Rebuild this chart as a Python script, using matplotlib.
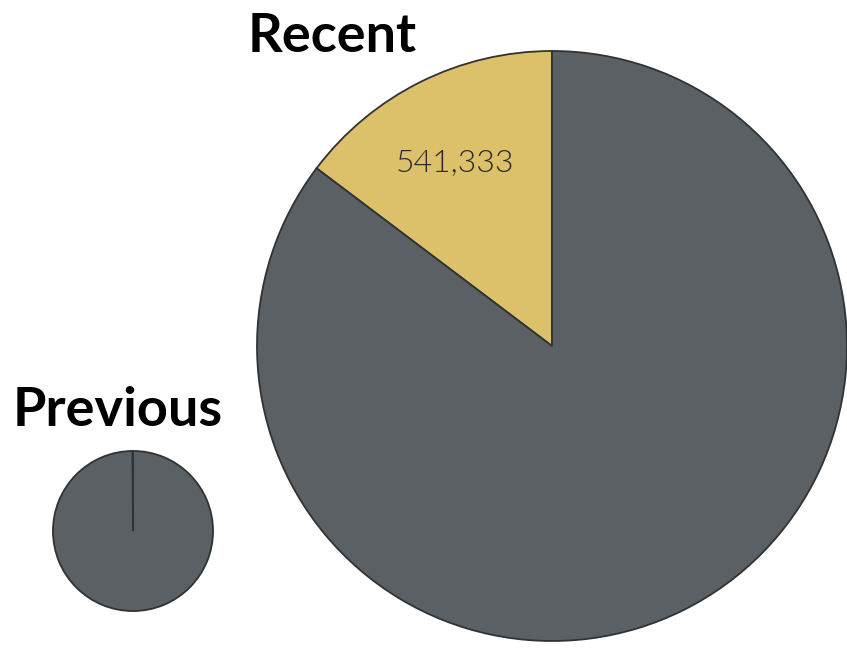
import numpy as np
import matplotlib.pyplot as plt

plt.rcParams['font.family'] = ['Lato', 'DejaVu Sans']

# values: [highlighted, rest]
recent_values = [541333, 3139000]
previous_values = [300, 270600]
labels = ['Recent', 'Previous']

gold = '#dcc06a'
grey = '#5a6063'
edge = '#303336'

fig = plt.figure(figsize=(8.47, 6.52), dpi=100)
ax = fig.add_axes([0, 0, 1, 1])

# area of each pie proportional to its total
big_r = 295
scale = big_r / np.sqrt(sum(recent_values))
small_r = scale * np.sqrt(sum(previous_values))

ax.pie(recent_values, colors=[gold, grey], startangle=90, counterclock=True,
       center=(552, 306), radius=big_r, frame=True,
       wedgeprops=dict(edgecolor=edge, linewidth=1.3))
ax.pie(previous_values, colors=[gold, grey], startangle=90, counterclock=True,
       center=(133, 121), radius=small_r, frame=True,
       wedgeprops=dict(edgecolor=edge, linewidth=1.3))
ax.set_xlim(0, 847)
ax.set_ylim(0, 652)
ax.set_aspect('equal')
ax.axis('off')

ax.text(455, 489, f"{recent_values[0]:,}", ha='center', va='center',
        fontsize=23, fontweight=300, color='#2a2a2a')

ax.text(332, 616, labels[0], ha='center', va='center', fontsize=39,
        fontweight='bold', color='black')
ax.text(118, 241, labels[1], ha='center', va='center', fontsize=39,
        fontweight='bold', color='black')

fig.savefig('out.png', dpi=100)
